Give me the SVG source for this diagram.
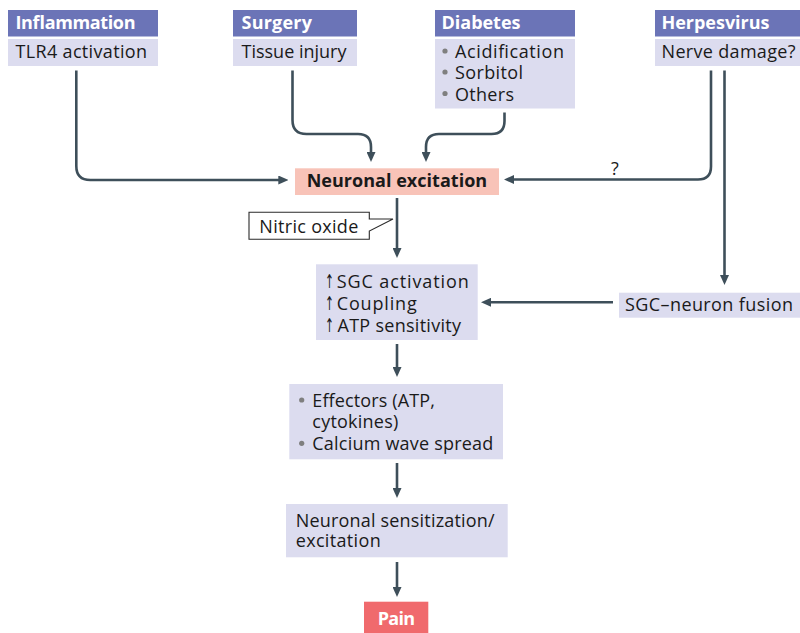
<svg xmlns="http://www.w3.org/2000/svg" width="800" height="633" viewBox="0 0 800 633">
<defs>
<style>
.hd{fill:#6b74b7}
.bd{fill:#dcdcef}
.ht{font-family:"Open Sans","DejaVu Sans",sans-serif;font-size:18px;font-weight:bold;fill:#ffffff}
.t{font-family:"Open Sans","DejaVu Sans",sans-serif;font-size:18px;fill:#1a1a1a}
.tb{font-family:"Open Sans","DejaVu Sans",sans-serif;font-size:18px;font-weight:bold;fill:#1a1a1a}
.ar{font-family:"DejaVu Sans",sans-serif;font-size:19px}
.bul{fill:#7f7f7f}
.c{fill:none;stroke:#3e4f5a;stroke-width:2.6;marker-end:url(#ah)}
</style>
<marker id="ah" viewBox="0 0 10 9" markerWidth="10" markerHeight="9" refX="2" refY="4.5" orient="auto" markerUnits="userSpaceOnUse">
<path d="M0,0 L10,4.5 L0,9 z" fill="#3e4f5a"/>
</marker>
</defs>
<rect width="800" height="633" fill="#ffffff"/>

<g id="inflammation">
<rect class="hd" x="8" y="10" width="150" height="26.5"/>
<rect class="bd" x="8" y="39" width="150" height="27"/>
<text class="ht" x="15.5" y="29" textLength="120">Inflammation</text>
<text class="t" x="15.5" y="58.3" textLength="131.5">TLR4 activation</text>
</g>

<g id="surgery">
<rect class="hd" x="233" y="10" width="124" height="26.5"/>
<rect class="bd" x="233" y="39" width="124" height="27"/>
<text class="ht" x="241.5" y="29" textLength="70.5">Surgery</text>
<text class="t" x="241.5" y="58.3" textLength="105">Tissue injury</text>
</g>

<g id="diabetes">
<rect class="hd" x="435" y="10" width="140" height="26.5"/>
<rect class="bd" x="435" y="39" width="140" height="69.5"/>
<text class="ht" x="441.5" y="29" textLength="79">Diabetes</text>
<circle class="bul" cx="445" cy="51" r="2.6"/>
<circle class="bul" cx="445" cy="72" r="2.6"/>
<circle class="bul" cx="445" cy="93.5" r="2.6"/>
<text class="t" x="455" y="58.3" textLength="109">Acidification</text>
<text class="t" x="455" y="79.3" textLength="68">Sorbitol</text>
<text class="t" x="455" y="100.5" textLength="59">Others</text>
</g>

<g id="herpesvirus">
<rect class="hd" x="655" y="10" width="145" height="26.5"/>
<rect class="bd" x="655" y="39" width="145" height="27"/>
<text class="ht" x="661.5" y="29" textLength="108">Herpesvirus</text>
<text class="t" x="661.5" y="58.3" textLength="134">Nerve damage?</text>
</g>

<g id="neuronal-excitation">
<rect x="295" y="168.3" width="204" height="26.7" fill="#f8c3b8"/>
<text class="tb" x="306.7" y="187" textLength="180.5">Neuronal excitation</text>
</g>

<g id="nitric-oxide">
<path d="M249,212.3 H369.3 V219 H393 L369.3,231 V239.3 H249 Z" fill="#ffffff" stroke="#2a2a2a" stroke-width="1.1" stroke-linejoin="miter"/>
<text class="t" x="259.3" y="232.5" textLength="99">Nitric oxide</text>
</g>

<g id="sgc">
<rect class="bd" x="316" y="264.3" width="161.7" height="75.7"/>
<text class="t" y="288.3"><tspan class="ar" x="325" textLength="9" lengthAdjust="spacingAndGlyphs">↑</tspan><tspan x="336.7" textLength="132">SGC activation</tspan></text>
<text class="t" y="310"><tspan class="ar" x="325" textLength="9" lengthAdjust="spacingAndGlyphs">↑</tspan><tspan x="336.7" textLength="80">Coupling</tspan></text>
<text class="t" y="331.7"><tspan class="ar" x="325" textLength="9" lengthAdjust="spacingAndGlyphs">↑</tspan><tspan x="337.5" textLength="123.5">ATP sensitivity</tspan></text>
</g>

<g id="sgc-neuron-fusion">
<rect class="bd" x="619" y="292.7" width="181" height="25"/>
<text class="t" x="625" y="310.5" textLength="168">SGC–neuron fusion</text>
</g>

<g id="effectors">
<rect class="bd" x="289.3" y="384" width="213.7" height="75.3"/>
<circle class="bul" cx="301.7" cy="400" r="2.6"/>
<circle class="bul" cx="301.7" cy="443.3" r="2.6"/>
<text class="t" x="312.3" y="406.7" textLength="122.7">Effectors (ATP,</text>
<text class="t" x="312.3" y="427.5" textLength="86">cytokines)</text>
<text class="t" x="312.3" y="450" textLength="181">Calcium wave spread</text>
</g>

<g id="neuronal-sensitization">
<rect class="bd" x="286" y="504" width="221.7" height="53.3"/>
<text class="t" x="295.7" y="526.7" textLength="199">Neuronal sensitization/</text>
<text class="t" x="295.7" y="546.7" textLength="85">excitation</text>
</g>

<g id="pain">
<rect x="364" y="601.7" width="64.3" height="31.3" fill="#f06a6d"/>
<text class="ht" x="377.7" y="625" textLength="37.3">Pain</text>
</g>

<g id="connectors">
<path class="c" d="M76.3,70.5 V166 Q76.3,180 90.3,180 H280.3"/>
<path class="c" d="M292.5,70.5 V120 Q292.5,134 306.5,134 H358 Q371,134 371,147 V154"/>
<path class="c" d="M504.5,112.5 V121 Q504.5,134 491.5,134 H439 Q426,134 426,147 V154"/>
<path class="c" d="M711,70.5 V166.5 Q711,179.5 698,179.5 H512"/>
<path class="c" d="M724.5,70.5 V277"/>
<path class="c" d="M397,198 V250"/>
<path class="c" d="M613,302.3 H489"/>
<path class="c" d="M397,344 V369"/>
<path class="c" d="M397,463 V490"/>
<path class="c" d="M397,562 V589"/>
<text class="t" x="611" y="175" font-size="16">?</text>
</g>
</svg>
